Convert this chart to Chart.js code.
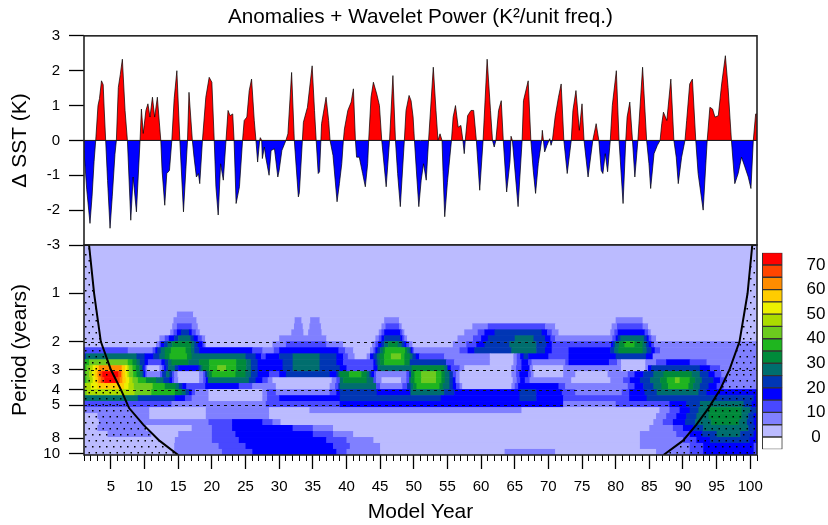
<!DOCTYPE html>
<html>
<head>
<meta charset="utf-8">
<script src="https://cdn.jsdelivr.net/npm/chart.js@4.4.1/dist/chart.umd.min.js"></script>
<style>
  body { margin: 0; background: #fff; width: 828px; height: 525px; position: relative; overflow: hidden; }
  canvas { position: absolute; }
</style>
</head>
<body>
<canvas id="sst" width="828" height="262" style="left:0;top:0"></canvas>
<canvas id="wave" width="828" height="285" style="left:0;top:240px"></canvas>
<canvas id="bar" width="73" height="215" style="left:755px;top:245px"></canvas>
<script>
// SST anomaly (K)
var sstYears = [
  1.0, 1.4, 1.7, 1.89, 2.2, 2.5, 2.74, 3.08, 3.3, 3.6, 3.85, 4.0, 4.22,
  4.5, 4.87, 5.2, 5.6, 5.81, 6.1, 6.4, 6.7, 7.1, 7.45, 7.95, 8.3, 8.79, 9.33,
  9.53, 9.8, 10.2, 10.5, 10.8, 11.17, 11.5, 11.9, 12.2, 12.41,
  12.6, 13.0, 13.3, 13.7, 14.05, 14.4, 14.8, 15.24, 15.78, 16.38, 16.6, 17.1,
  17.35, 17.7, 18.0, 18.2, 18.6, 19.1, 19.6, 20.0, 20.35,
  20.6, 20.94, 21.3, 21.7, 22.1, 22.4, 22.7, 23.1, 23.3, 23.6, 24.1, 24.56,
  24.8, 25.2, 25.55, 25.9, 26.3, 26.55, 26.8, 27.1, 27.2, 27.4,
  27.5, 27.8, 28.0, 28.5, 28.8, 29.3, 29.8, 30.0, 30.4, 31.0,
  31.3, 31.85, 32.25, 32.85, 33.0, 33.45, 33.6, 34.2, 34.9, 35.25, 35.5,
  35.8, 36.0, 36.2, 36.3, 36.97, 37.35, 37.56, 38.0, 38.6, 38.95, 39.3, 39.54,
  39.7, 40.2, 40.7, 41.03, 41.33, 41.5, 41.9, 42.4, 42.8, 43.15, 43.3,
  43.65, 44.0, 44.5, 44.9, 45.24, 45.9, 46.4, 46.9, 47.28, 47.6, 48.0, 48.6,
  48.85, 49.3, 49.6, 49.9, 50.1, 50.45, 50.75, 51.1, 51.45, 51.85, 52.2,
  52.9, 53.3, 53.6, 53.9, 54.2, 54.35, 54.6, 55.0, 55.6,
  55.85, 56.2, 56.6, 57.0, 57.3, 57.5, 57.65, 58.0, 58.5, 58.9, 59.3, 59.8, 60.3,
  60.9, 61.4, 61.7, 61.95, 62.2, 62.6, 63.0, 63.3, 63.8, 64.3, 64.45, 64.65,
  65.5, 66.1, 66.3, 67.0, 67.4, 67.75, 68.1, 68.5, 69.0,
  69.1, 69.45, 69.8, 70.2, 70.4, 70.6, 71.0, 71.5, 71.9, 72.3, 72.8, 73.4,
  73.65, 74.1, 74.6, 75.0, 75.3, 75.9, 76.6, 77.1, 77.5,
  77.85, 78.1, 78.45, 78.8, 79.2, 79.5, 80.1, 80.5, 81.1, 81.5, 81.7, 82.1, 82.5,
  82.85, 83.3, 84.0, 84.6, 84.95, 85.2, 85.7, 86.2, 86.6,
  86.85, 87.1, 87.6, 88.2, 88.65, 89.0, 89.3, 89.8, 90.3, 90.55, 91.0, 91.4, 91.9,
  92.25, 93.0, 93.6, 94.0, 94.4, 94.75, 95.25, 95.75, 96.3, 96.7, 97.2,
  97.7, 98.2, 98.7, 99.2, 99.7, 100.1, 100.45, 100.8, 101.0
];
var sstValues = [
  -0.3, -1.4, -2.0, -2.38, -1.6, -0.6, 0, 1.0, 1.2, 1.71, 1.6, 0.9, 0,
  -1.15, -2.52, -1.6, -0.4, 0, 1.52, 1.9, 2.33, 0.86, 0, -2.29, -1.05, -2.05, 0,
  0.9, 0.2, 0.86, 1.05, 0.67, 1.24, 0.67, 1.24, 0.5, 0,
  -0.86, -1.86, -0.95, -0.86, 0, 1.2, 2.0, 0, -2.05, 0, 1.38, 0,
  -0.48, -1.05, -0.95, -1.24, 0, 1.24, 1.81, 1.67, 0,
  -1.33, -2.14, -0.67, -1.14, 0, 0.86, 0.71, 0.76, 0, -1.81, -1.33, 0,
  0.57, 0.67, 1.43, 1.76, 0.57, 0, -0.62, 0, 0.08, 0,
  -0.52, -0.19, -0.48, -1.0, -0.29, -0.24, -1.05, -0.86, -0.29, 0,
  0.19, 1.95, 0, -1.62, -1.5, 0, 0.52, 0.95, 2.14, 0.86, 0,
  -0.95, -0.9, 0, 0.48, 1.24, 0.57, 0, -0.43, -1.76, -1.24, -0.67, 0,
  0.33, 0.86, 1.1, 1.48, 0, -0.48, -0.48, -0.95, -1.33, -0.67, 0,
  1.24, 1.67, 1.33, 1.0, 0, -1.33, 0, 1.86, 0, -0.95, -1.9, 0,
  0.86, 1.29, 1.14, 0.67, 0, -1.05, -1.9, -1.14, -0.67, -1.14, 0,
  2.1, 0.86, 0, 0.19, 0, -0.9, -2.19, -1.2, 0,
  0.67, 1.0, 0.38, 0.43, 0, -0.38, 0, 0.71, 0.86, 0.86, 0, -1.43, 0,
  2.33, 0.86, 0, -0.19, 0, 0.86, 1.14, 0, -1.48, -0.6, 0.12, 0,
  -1.9, 0, 1.14, 1.71, 0, -0.86, -1.52, -0.67, 0,
  0.29, -0.33, -0.14, 0.05, -0.14, 0, 0.67, 1.24, 1.62, 0, -0.95, 0,
  0.86, 1.43, 0.29, 1.05, 0, -1.05, 0, 0.48, 0,
  -0.86, -0.95, -0.38, -0.9, 0, 1.0, 2.0, 0, -1.81, 0, 0.67, 1.1, 0,
  -1.05, 0, 2.1, 0, -0.67, -1.38, -0.38, -0.14, 0,
  0.48, 0.81, 0.57, 1.76, 0, -0.48, -1.24, -0.48, 0, 0.57, 1.62, 1.76, 0,
  -0.95, -2.0, 0, 0.95, 0.9, 0.67, 0.71, 1.62, 2.43, 1.52, 0,
  -1.24, -0.95, -0.48, -0.76, -1.05, -1.38, 0, 0.76, 0.76
];
var sstTicks = [-3, -2, -1, 0, 1, 2, 3];

// wavelet power: period bins (years) and, per bin, runs "startYear:level"
var periodEdges = [0.5, 1.3, 1.41, 1.54, 1.68, 1.83, 1.99, 2.17, 2.37, 2.58, 2.81, 3.06, 3.34,
  3.63, 3.96, 4.32, 4.7, 5.13, 5.59, 6.09, 6.63, 7.23, 7.88, 8.58, 9.35, 10.2];
var powerRows = [
  "1:1",
  "1:1 14.8:2 17.2:1",
  "1:1 14.3:2 17.7:1 32.3:2 33.3:1 34.6:2 36:1 45.6:2 47.8:1 80:2 84:1",
  "1:1 14.1:2 14.8:3 17:2 17.9:1 32.2:2 33.5:1 34.5:2 36.2:1 45.2:2 45.8:3 47.8:2 48.2:1 58.7:2 61:3 69.5:2 71:1 79.4:2 80.2:3 84:2 84.8:1",
  "1:1 13.8:2 14.3:3 14.8:4 15.4:5 16.6:4 17:3 17.6:2 18.2:1 31.8:2 33.6:1 34.3:2 36.3:1 44.8:2 45.2:3 45.6:4 48:3 48.3:2 48.6:1 57.5:2 59.5:3 60.5:4 62:5 69:4 69.8:3 70.5:2 71.5:1 79.2:2 79.8:3 80.3:4 84.3:3 84.8:2 85.2:1",
  "1:1 12.2:2 13:3 13.6:4 14.4:5 15:6 16.8:5 17.3:4 17.9:3 18.5:2 19:1 30:2 37:1 44.3:2 44.8:3 45.2:4 45.6:5 48:4 48.3:3 48.6:2 49:1 56.5:2 58.8:3 60:4 61:5 65:6 67.8:5 69.5:4 70.3:3 71:2 79.5:3 80:4 80.3:5 80.7:6 84.2:5 84.6:4 84.9:3 85.3:2 86:1",
  "1:1 11.7:2 12.2:3 12.4:4 12.9:5 13.4:6 14.1:7 16.9:6 17.4:5 17.9:4 18.6:3 18.9:2 19.1:1 29:2 31:3 37:2 39.5:1 43.8:2 44.3:3 44.7:4 45.2:5 45.6:6 46.2:7 47.6:6 48.2:5 48.6:4 48.9:3 49.3:2 49.8:1 55.8:2 57.8:3 59.3:4 60.5:5 64.2:6 68.2:5 69.7:4 70.5:3 79.3:4 79.6:5 79.9:6 80.5:7 81.3:8 82.8:7 84:6 84.5:5 84.9:4 85.3:3 85.7:2",
  "1:3 7.5:2 11.2:3 11.6:4 11.9:5 12.4:6 13:7 13.9:8 16.1:7 16.9:6 17.4:5 18.1:4 26:3 27.5:2 29.2:3 30:4 38.8:3 39.8:2 41:1 43.5:2 44:3 44.3:4 44.6:5 45:6 45.4:7 45.7:8 48.7:7 49:6 49.4:5 49.6:4 49.8:3 50:2 56.8:3 58:4 59:5 64.5:6 68.2:5 69.5:4 70.5:3 73:4 79.2:5 79.8:6 80.4:7 84:6 84.6:5 85.3:4 85.8:3 86.6:2",
  "1:5 1.3:6 8.8:5 10:4 11.3:5 12.2:6 13:7 13.7:8 16.3:7 17:6 25:5 26.5:4 27.3:3 28:4 30:5 32:6 36:5 38.5:4 39.5:3 40.2:2 41.2:1 43:2 43.5:4 44:5 44.5:6 44.9:7 45.6:8 46.6:9 48.1:8 48.6:7 49.4:6 49.8:5 50.3:4 50.8:3 54.5:2 61.3:1 64.8:2 65.3:3 65.8:4 66.3:5 67:4 70:3 73:4 80:5 84.5:4 85.5:2",
  "1:8 1.75:9 7.5:8 8.2:7 8.8:6 9.3:5 10:4 10.5:3 12.5:4 13:5 13.5:6 14:7 16.5:6 18.1:7 19.6:8 23.6:7 25.1:6 25.8:5 26.8:4 30.5:5 32:6 36:5 38.5:4 39.5:3 44:4 44.3:5 44.6:6 45:7 45.6:8 48.6:7 49.4:5 54.8:3 56:2 61.3:1 64.8:2 65.3:3 66:4 67:3 67.5:2 72.5:3 73:4 79:3 80.2:2 80.8:1 84.4:2 86:3 87.5:4 91:3 93.5:2",
  "1:8 1.35:9 1.85:10 2.3:11 2.7:12 3.2:13 6.6:12 7.1:11 7.45:10 7.7:9 8.2:8 8.7:7 9.2:6 9.6:5 9.8:4 10:3 10.2:2 10.4:1 12.2:2 12.6:3 12.9:4 13.2:5 13.5:6 14.5:5 15:4 18:5 18.3:6 18.6:7 19.6:8 20.8:9 22.1:8 23.6:7 25.1:6 25.8:5 26.8:4 30.5:5 32:6 36:5 39:4 40:3 44:4 44.6:6 49.7:7 54.5:6 55:4 55.5:3 56.8:2 57.5:1 64.5:2 65.2:3 66:4 67.2:2 67.7:1 72.2:2 80.8:1 84.4:2 84.8:4 85.3:5 92.5:4 94:3 95.5:2",
  "1:8 1.25:9 1.75:10 2.2:11 2.6:12 3:13 3.3:14 3.7:15 6.1:14 6.5:13 6.7:12 7.1:11 7.45:10 7.7:9 8.3:8 8.8:7 9.3:6 9.7:5 9.9:4 10.1:3 10.3:2 12.3:3 12.6:5 13.2:6 13.7:5 14.1:3 14.4:2 14.9:1 18.1:2 18.7:3 19:5 19.3:6 19.6:7 20:8 23.5:7 25:6 25.8:5 26.8:4 28.5:3 30:4 31:5 37.5:4 38.5:5 38.8:6 39:7 40.4:8 42.2:7 43:6 43.4:5 43.7:4 44.1:3 44.4:2 48.9:3 49.3:5 49.6:7 50.1:8 51.1:9 53.3:8 54.1:7 54.6:6 55.3:5 55.8:3 56.3:2 56.8:1 64.5:2 65.2:3 65.7:4 67:3 67.4:2 67.8:1 72.2:2 74:1 78.8:2 81.8:3 82.8:4 84.1:5 85.6:6 87.1:7 91.3:6 92.5:5 93.8:4 94.7:3 95.7:2",
  "1:8 1.35:9 1.85:10 2.3:11 2.7:12 3.1:13 3.5:14 4:15 5.8:14 6.3:13 6.7:12 7.2:11 7.7:10 8.2:9 9:8 10.2:7 11.7:6 12.8:5 13.7:4 14.1:3 14.4:2 15:1 18.1:2 18.7:3 19.1:4 19.4:6 25.5:5 26.5:4 27.5:3 28.3:2 29:1 37.8:2 38.5:3 39:6 39.5:7 43:6 44:3 44.4:2 45.2:1 48.1:2 48.9:3 49.3:6 49.6:7 50.1:8 51.1:9 53.3:8 54.1:7 54.6:6 55.3:5 55.8:4 56.2:2 56.8:1 64.7:2 65.3:3 65.8:4 66.5:3 67.2:2 73.4:1 79.2:2 81.1:3 82.1:4 83.6:5 85.1:6 86.6:7 87.6:8 88.8:9 89.5:8 91:7 91.8:6 92.8:5 94.5:4 95.5:3 96.5:2",
  "1:10 2:11 3:12 6.95:11 7.6:10 8.4:9 11.2:8 13:7 14.6:6 15.1:5 15.6:4 16.2:3 19:4 24:3 26:2 29.5:1 37.5:2 38.3:3 38.8:5 39:6 44.4:3 45:2 48.3:3 49:5 49.5:6 49.9:7 50.4:8 53.8:7 54.3:6 55.3:5 55.8:4 56.3:3 56.8:2 57.2:1 64.5:2 65:3 65.5:4 71.5:3 72.5:2 81.8:3 82.8:4 84.1:5 85.6:6 86.8:7 87.8:8 90.8:7 91.5:6 92.5:5 93.8:4 95:3 96:2",
  "1:9 1.4:10 8.5:9 11:8 14.5:7 15.5:6 16.1:5 16.6:4 17:3 17.5:2 19.5:1 27.5:2 28.2:3 29.5:2 37.5:3 38.5:4 39:5 44.5:4 49.5:6 54.5:5 56:4 65.7:5 68.2:4 72:3 74:2 80.9:3 82:4 84.3:5 86.1:6 92.3:5 93.5:4",
  "1:6 9:5 14.5:4 16:3 17:2 19.5:1 27.5:2 28.2:3 30:4 39:5 54:4 65.7:5 68.2:4 72.2:3 82:4 84.6:5 100.5:4",
  "1:3 14:2 28:3 39:4 72.2:2 80:3 88:4 90.5:5 92.5:6 99:5 100.2:4",
  "1:2 10.7:1 19.1:2 28.5:1 34.5:2 66:1 86.5:2 88:3 89.5:4 91:5 92.3:6 93.8:7 98.7:6 100:5",
  "1:1 3:2 10.7:1 19.1:2 28.5:1 86:2 87.5:3 89:4 90.5:5 92:6 93.8:7 98.7:6 99.7:5 100.5:4",
  "1:1 3.2:2 19.5:3 23:4 27.5:3 29:2 30.2:1 85.6:2 87:3 88.5:4 90.3:5 91.8:6 94.2:7 98.3:6 99.5:5 100.5:4",
  "1:1 3:2 10.2:1 17:2 20:3 23:4 32:3 35:2 38:1 85:2 88.5:3 90:4 91.5:5 93:6 99.7:5 100.7:4",
  "1:1 4.5:2 11:1 15:2 20:3 23.5:4 35:3 38:2 41:1 83.6:2 89:3 91:4 92.8:5 95:6 98.5:5 100.5:4",
  "1:1 14.5:2 20:3 24:4 37:3 40:2 44:1 83.6:2 90:3 92:4 94:5 99.9:4",
  "1:1 14.4:2 21:3 25:4 38:3 40.5:2 45:1 83.6:2 91:3 93:4 100.5:3",
  "1:1 14.4:2 21.5:3 26:4 38.5:3 40:2 45:1 63.5:2 71:1 86:2 91:3 93:4 100.5:3"
];
var levelColors = ['#ffffff', '#bbbbff', '#8080ff', '#4848ff', '#0000ff', '#0036b4', '#006e6e', '#008a3a',
  '#1fb51f', '#6ccb1e', '#abdc00', '#ecf000', '#ffcc00', '#ff8c00', '#ff4500', '#ff0000'];
var colorbarLabels = [0, 10, 20, 30, 40, 50, 60, 70];

// cone of influence
var coiLeftYears = [1, 1.75, 2.5, 3.5, 5.0, 6.5, 7.7, 9.8, 12.2, 15.0];
var coiLeftPeriods = [0.5, 0.5, 1, 2, 3, 4, 5.2, 6.6, 8.3, 10.2];
var coiRightYears = [87.1, 90.0, 92.0, 93.8, 95.5, 96.9, 98.4, 99.6, 100.3, 101];
var coiRightPeriods = [10.2, 8.3, 6.6, 5.2, 4, 3, 2, 1, 0.5, 0.5];

var periodTicks = [1, 2, 3, 4, 5, 8, 10];
var dashedPeriods = [2, 3, 4, 5];
var yearTicks = [5, 10, 15, 20, 25, 30, 35, 40, 45, 50, 55, 60, 65, 70, 75, 80, 85, 90, 95, 100];
var minorYears = [];
for (var yr = 1; yr <= 101; yr++) minorYears.push(yr);

Chart.defaults.font.family = "'Liberation Sans', Arial, sans-serif";
Chart.defaults.color = '#000';

function fixWidth(s) { s.width = 84; s.paddingTop = 0; s.paddingBottom = 0; }

var framePlugin = {
  id: 'frame',
  afterDatasetsDraw: function (chart, args, opts) {
    var ctx = chart.ctx, a = chart.chartArea, y = chart.scales.y;
    ctx.save();
    ctx.strokeStyle = '#111';
    if (opts.zero) {
      var y0 = y.getPixelForValue(0);
      ctx.lineWidth = 1;
      ctx.beginPath(); ctx.moveTo(a.left, y0); ctx.lineTo(a.right, y0); ctx.stroke();
    }
    if (opts.dashed) {
      ctx.lineWidth = 1;
      ctx.setLineDash([3, 4]);
      dashedPeriods.forEach(function (p) {
        var yp = Math.round(y.getPixelForValue(p)) + 0.5;
        ctx.beginPath(); ctx.moveTo(a.left, yp); ctx.lineTo(a.right, yp); ctx.stroke();
      });
      ctx.setLineDash([]);
    }
    ctx.lineWidth = 1.6;
    ctx.strokeStyle = '#222';
    ctx.strokeRect(a.left, a.top, a.right - a.left, a.bottom - a.top);
    ctx.restore();
  }
};

var wavePlugin = {
  id: 'wavelet',
  beforeDatasetsDraw: function (chart) {
    var ctx = chart.ctx, a = chart.chartArea, x = chart.scales.x, y = chart.scales.y;
    ctx.save();
    ctx.beginPath(); ctx.rect(a.left, a.top, a.right - a.left, a.bottom - a.top); ctx.clip();
    powerRows.forEach(function (row, i) {
      var yA = y.getPixelForValue(periodEdges[i]);
      var yB = y.getPixelForValue(periodEdges[i + 1]);
      var runs = row.trim().split(/\s+/).map(function (s) { return s.split(':').map(Number); });
      runs.forEach(function (r, k) {
        var end = k + 1 < runs.length ? runs[k + 1][0] : 101;
        var x0 = x.getPixelForValue(r[0]), x1 = x.getPixelForValue(end);
        ctx.fillStyle = levelColors[r[1]];
        ctx.fillRect(x0, Math.min(yA, yB), x1 - x0 + 0.6, Math.abs(yB - yA) + 0.6);
      });
    });
    ctx.restore();
  }
};

function dotPattern() {
  var c = document.createElement('canvas');
  c.width = 7; c.height = 12;
  var g = c.getContext('2d');
  g.fillStyle = '#000';
  g.fillRect(1, 2, 1.5, 1.5);
  g.fillRect(4.5, 8, 1.5, 1.5);
  return g.createPattern(c, 'repeat');
}

new Chart(document.getElementById('sst'), {
  type: 'line',
  data: {
    datasets: [{
      data: sstYears.map(function (x, i) { return { x: x, y: sstValues[i] }; }),
      borderColor: '#000',
      borderWidth: 0.7,
      pointRadius: 0,
      tension: 0,
      fill: { target: 'origin', above: '#ff0000', below: '#0000ff' }
    }]
  },
  options: {
    responsive: false,
    animation: false,
    layout: { padding: { left: 0, right: 71, top: 0, bottom: 17 } },
    plugins: {
      legend: { display: false },
      tooltip: { enabled: false },
      title: {
        display: true, fullSize: false,
        text: 'Anomalies + Wavelet Power (K\u00b2/unit freq.)',
        font: { size: 20.7, weight: 'normal' }, color: '#000',
        padding: { top: 5, bottom: 6 }
      },
      frame: { zero: true }
    },
    scales: {
      x: { type: 'linear', min: 1, max: 101, display: false },
      y: {
        min: -3, max: 3,
        afterBuildTicks: function (s) { s.ticks = sstTicks.map(function (v) { return { value: v }; }); },
        afterFit: fixWidth,
        ticks: { font: { size: 15 }, padding: 9 },
        grid: { drawOnChartArea: false, tickLength: 15, tickColor: '#000', tickWidth: 1.3 },
        border: { display: false },
        title: { display: true, text: '\u0394 SST (K)', font: { size: 21 }, padding: { top: 8 } }
      }
    }
  },
  plugins: [framePlugin]
});

var dots = dotPattern();
new Chart(document.getElementById('wave'), {
  type: 'scatter',
  data: {
    datasets: [
      {
        data: coiLeftYears.map(function (x, i) { return { x: x, y: coiLeftPeriods[i] }; }),
        showLine: true, borderColor: '#000', borderWidth: 2, pointRadius: 0,
        backgroundColor: dots, fill: { value: 10.2 }
      },
      {
        data: coiRightYears.map(function (x, i) { return { x: x, y: coiRightPeriods[i] }; }),
        showLine: true, borderColor: '#000', borderWidth: 2, pointRadius: 0,
        backgroundColor: dots, fill: { value: 10.2 }
      }
    ]
  },
  options: {
    responsive: false,
    animation: false,
    layout: { padding: { left: 0, right: 71, top: 5, bottom: 0 } },
    plugins: { legend: { display: false }, tooltip: { enabled: false }, frame: { dashed: true } },
    scales: {
      x: {
        type: 'linear', position: 'bottom', min: 1, max: 101, weight: 1,
        afterBuildTicks: function (s) { s.ticks = yearTicks.map(function (v) { return { value: v }; }); },
        afterFit: function (s) { s.height = 70; s.paddingLeft = 0; s.paddingRight = 0; },
        ticks: { font: { size: 15 }, padding: 9, maxRotation: 0 },
        grid: { drawOnChartArea: false, tickLength: 14, tickColor: '#000', tickWidth: 1.3 },
        border: { display: false },
        title: { display: true, text: 'Model Year', font: { size: 21 }, padding: { top: 0, bottom: 0 } }
      },
      xMinor: {
        type: 'linear', axis: 'x', position: 'bottom', min: 1, max: 101, weight: 0,
        afterBuildTicks: function (s) { s.ticks = minorYears.map(function (v) { return { value: v }; }); },
        afterFit: function (s) { s.height = 0; s.paddingLeft = 0; s.paddingRight = 0; },
        ticks: { display: false },
        grid: { drawOnChartArea: false, tickLength: 6, tickColor: '#000', tickWidth: 1 },
        border: { display: false }
      },
      y: {
        type: 'logarithmic', reverse: true, min: 0.5, max: 10.2,
        afterBuildTicks: function (s) { s.ticks = periodTicks.map(function (v) { return { value: v }; }); },
        afterFit: fixWidth,
        ticks: { font: { size: 15 }, padding: 9, callback: function (v) { return String(v); } },
        grid: { drawOnChartArea: false, tickLength: 15, tickColor: '#000', tickWidth: 1.3 },
        border: { display: false },
        title: { display: true, text: 'Period (years)', font: { size: 21 }, padding: { top: 8 } }
      }
    }
  },
  plugins: [wavePlugin, framePlugin]
});

new Chart(document.getElementById('bar'), {
  type: 'bar',
  data: {
    labels: [''],
    datasets: levelColors.map(function (c) {
      return { data: [1], backgroundColor: c, borderColor: '#333', borderWidth: 1, borderSkipped: false, barThickness: 20 };
    })
  },
  options: {
    responsive: false,
    animation: false,
    layout: { padding: { left: 4, right: 0, top: 7.7, bottom: 10.7 } },
    plugins: { legend: { display: false }, tooltip: { enabled: false } },
    scales: {
      x: { stacked: true, display: false },
      y: {
        stacked: true, position: 'right', min: 0, max: 16,
        afterBuildTicks: function (s) { s.ticks = colorbarLabels.map(function (v, i) { return { value: 2 * i + 1 }; }); },
        afterFit: function (s) { s.width = 42.4; s.paddingTop = 0; s.paddingBottom = 0; },
        ticks: { font: { size: 17 }, padding: 21, crossAlign: 'center',
          callback: function (v) { return String(colorbarLabels[(v - 1) / 2]); } },
        grid: { display: false, drawTicks: false },
        border: { display: false }
      }
    }
  }
});
</script>
</body>
</html>
